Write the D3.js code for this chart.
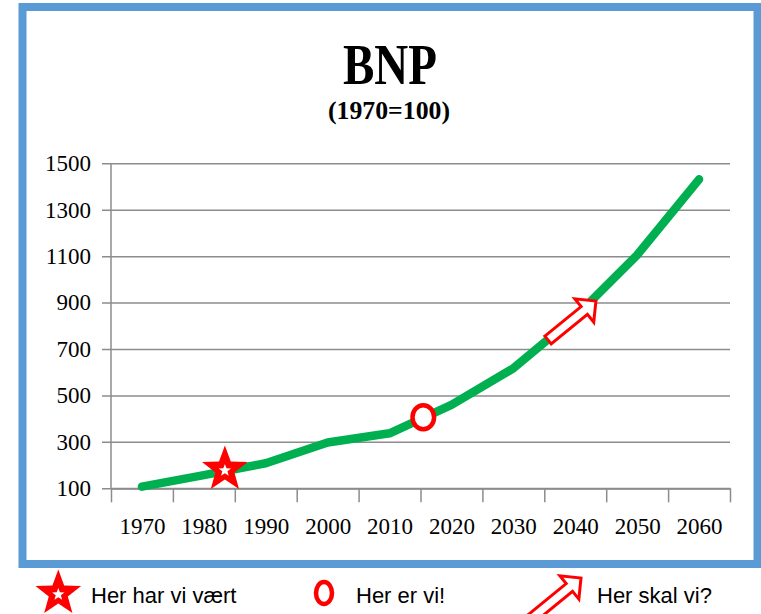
<!DOCTYPE html>
<meta charset="utf-8">
<head>
	<title>BNP (1970=100)</title>
	<script src="https://d3js.org/d3.v7.min.js"></script>
	<style>
		body { margin: 0; background: #fff; }
		.grid line { stroke: #8c8c8c; stroke-width: 1.5; }
		.grid text, .xlabels text { font-family: "Liberation Serif", serif; font-size: 23px; fill: #000; }
		.legend text { font-family: "Liberation Sans", sans-serif; font-size: 22px; fill: #000; }
	</style>
</head>
<body>
	<div id="chart"></div>
	<script>
		// data
		var years = [1970, 1980, 1990, 2000, 2010, 2020, 2030, 2040, 2050, 2060];
		var bnp = [107, 157, 208, 297, 337, 459, 617, 839, 1105, 1431];
		var yTicks = [100, 300, 500, 700, 900, 1100, 1300, 1500];
		var xBounds = [1965, 1975, 1985, 1995, 2005, 2015, 2025, 2035, 2045, 2055, 2065];

		// annotations on the curve
		var starAt = { year: 1983.4, value: 181 };
		var circleAt = { year: 2015.45, value: 406 };
		var arrowFrom = { year: 2035.6, value: 739 };
		var arrowTo = { year: 2043.5, value: 911 };

		var legendLabels = ["Her har vi vært", "Her er vi!", "Her skal vi?"];

		var w = 761, h = 614;
		var svg = d3.select("#chart").append("svg")
			.attr("width", w).attr("height", h);

		// blue frame
		svg.append("rect")
			.attr("x", 22.5).attr("y", 7)
			.attr("width", 757.5 - 22.5).attr("height", 564 - 7)
			.style("fill", "#fff")
			.style("stroke", "#5b9bd5")
			.style("stroke-width", 8);

		// title
		svg.append("text")
			.attr("x", 390).attr("y", 84)
			.attr("text-anchor", "middle")
			.attr("textLength", 94).attr("lengthAdjust", "spacingAndGlyphs")
			.style("font-family", "Liberation Serif, serif")
			.style("font-weight", "bold")
			.style("font-size", "57px")
			.text("BNP");

		svg.append("text")
			.attr("x", 389).attr("y", 119)
			.attr("text-anchor", "middle")
			.attr("textLength", 122).attr("lengthAdjust", "spacingAndGlyphs")
			.style("font-family", "Liberation Serif, serif")
			.style("font-weight", "bold")
			.style("font-size", "25px")
			.text("(1970=100)");

		// scales
		var x = d3.scaleLinear().domain([1965, 2065]).range([111, 730]);
		var y = d3.scaleLinear().domain([100, 1500]).range([488.3, 163.3]);

		// horizontal grid + y labels
		var gGrid = svg.append("g")
			.attr("class", "grid")
			.attr("transform", "translate(102,0)")
			.call(d3.axisLeft(y).tickValues(yTicks).tickSize(-(730 - 102)).tickPadding(11).tickFormat(d3.format("d")));
		gGrid.select(".domain").remove();

		// vertical axis line
		svg.append("line")
			.attr("x1", 111).attr("x2", 111)
			.attr("y1", y(1500)).attr("y2", y(100))
			.style("stroke", "#8c8c8c").style("stroke-width", 1.5);

		// x axis with ticks on category boundaries
		var gX = svg.append("g")
			.attr("class", "grid")
			.attr("transform", "translate(0," + y(100) + ")")
			.call(d3.axisBottom(x).tickValues(xBounds).tickSize(14).tickSizeOuter(0).tickFormat(""));
		gX.select(".domain").style("stroke", "#8c8c8c").style("stroke-width", 2);

		var gXl = svg.append("g")
			.attr("class", "xlabels")
			.attr("transform", "translate(0," + y(100) + ")")
			.call(d3.axisBottom(x).tickValues(years).tickSize(0).tickPadding(29).tickFormat(d3.format("d")));
		gXl.select(".domain").remove();

		// the green line
		var line = d3.line()
			.x(function (d, i) { return x(years[i]); })
			.y(function (d) { return y(d); });

		svg.append("path")
			.datum(bnp)
			.attr("d", line)
			.style("fill", "none")
			.style("stroke", "#00b050")
			.style("stroke-width", 8.5)
			.style("stroke-linejoin", "round")
			.style("stroke-linecap", "round");

		// helpers for markers
		function starPath(cx, cy, R, r) {
			var pts = [];
			for (var k = 0; k < 10; k++) {
				var a = -Math.PI / 2 + k * Math.PI / 5;
				var rad = k % 2 == 0 ? R : r;
				pts.push([cx + rad * Math.cos(a), cy + rad * Math.sin(a)]);
			}
			return "M" + pts.join("L") + "Z";
		}

		function arrowPath(x0, y0, x1, y1, sh, hh, hl) {
			var L = Math.sqrt((x1 - x0) * (x1 - x0) + (y1 - y0) * (y1 - y0));
			var c = (x1 - x0) / L, s = (y1 - y0) / L;
			var loc = [[0, -sh], [L - hl, -sh], [L - hl, -hh], [L, 0], [L - hl, hh], [L - hl, sh], [0, sh]];
			var pts = loc.map(function (p) {
				return [x0 + p[0] * c - p[1] * s, y0 + p[0] * s + p[1] * c];
			});
			return "M" + pts.join("L") + "Z";
		}

		function drawStar(cx, cy) {
			svg.append("path").attr("d", starPath(cx, cy, 24, 10)).style("fill", "#ff0000");
			svg.append("path").attr("d", starPath(cx, cy + 1, 6.5, 2.7)).style("fill", "#fff");
		}

		function drawRing(cx, cy, rx, ry) {
			svg.append("ellipse")
				.attr("cx", cx).attr("cy", cy).attr("rx", rx).attr("ry", ry)
				.style("fill", "#fff").style("stroke", "#ff0000").style("stroke-width", 4.5);
		}

		function drawArrow(x0, y0, x1, y1) {
			svg.append("path")
				.attr("d", arrowPath(x0, y0, x1, y1, 5, 15, 15))
				.style("fill", "#fff").style("stroke", "#ff0000").style("stroke-width", 3)
				.style("stroke-linejoin", "miter");
		}

		// markers on the chart
		drawStar(x(starAt.year), y(starAt.value));
		drawRing(x(circleAt.year), y(circleAt.value), 10.8, 12);
		drawArrow(x(arrowFrom.year), y(arrowFrom.value), x(arrowTo.year) - 1, y(arrowTo.value) + 1);

		// legend
		var dx = x(arrowTo.year) - x(arrowFrom.year), dy = y(arrowTo.value) - y(arrowFrom.value);
		drawStar(58.3, 593.5);
		drawRing(324, 593, 8, 11);
		drawArrow(581 - dx, 578 - dy, 581, 578);

		var legend = svg.append("g").attr("class", "legend");
		legend.selectAll("text")
			.data(legendLabels).enter()
			.append("text")
			.attr("x", function (d, i) { return [91, 356, 597][i]; })
			.attr("y", 603)
			.text(function (d) { return d; });
	</script>
</body>
</html>
